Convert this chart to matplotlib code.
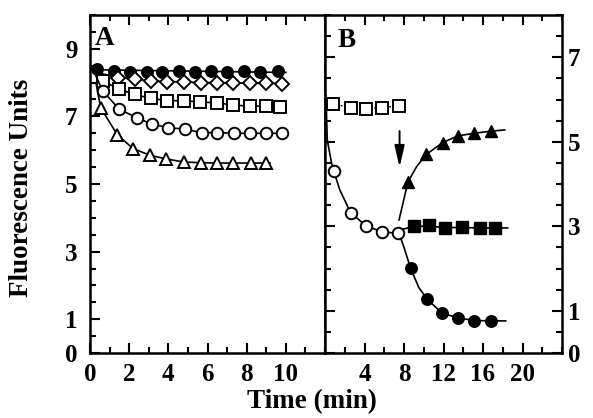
import matplotlib
matplotlib.use("Agg")
import matplotlib.pyplot as plt
from matplotlib.ticker import MultipleLocator, FixedLocator

plt.rcParams['font.family'] = ['Liberation Serif', 'DejaVu Serif']
plt.rcParams['font.weight'] = 'bold'

# ---------------- Panel A data (left axis) ----------------
a_fc_t = [0.35, 1.2, 2.05, 2.9, 3.7, 4.55, 5.35, 6.2, 7.0, 7.85, 8.7, 9.6]
a_fc_v = [8.4, 8.35, 8.32, 8.3, 8.3, 8.35, 8.3, 8.35, 8.3, 8.35, 8.3, 8.33]
a_fc_line_t = [0.2, 10.0]
a_fc_line_v = [8.38, 8.3]

a_di_t = [1.45, 2.3, 3.1, 3.95, 4.8, 5.65, 6.46, 7.3, 8.16, 9.0, 9.8]
a_di_v = [8.15, 8.1, 8.05, 8.03, 8.02, 8.0, 8.0, 7.99, 7.98, 7.98, 7.97]
a_di_line_t = [0.25, 0.7, 1.45, 2.3, 3.1, 3.95, 4.8, 5.65, 6.46, 7.3, 8.16, 9.0, 9.8]
a_di_line_v = [8.35, 8.25, 8.15, 8.1, 8.05, 8.03, 8.02, 8.0, 8.0, 7.99, 7.98, 7.98, 7.97]

a_sq_t = [0.65, 1.5, 2.3, 3.1, 3.95, 4.8, 5.6, 6.46, 7.3, 8.16, 9.0, 9.7]
a_sq_v = [8.05, 7.8, 7.65, 7.53, 7.47, 7.46, 7.43, 7.4, 7.34, 7.3, 7.31, 7.28]
a_sq_line_t = [0.3, 0.65, 1.5, 2.3, 3.1, 3.95, 4.8, 5.6, 6.46, 7.3, 8.16, 9.0, 10.0]
a_sq_line_v = [8.3, 8.05, 7.8, 7.65, 7.53, 7.47, 7.46, 7.43, 7.4, 7.34, 7.3, 7.31, 7.28]

a_oc_t = [0.65, 1.5, 2.4, 3.15, 4.0, 4.85, 5.7, 6.5, 7.35, 8.16, 9.0, 9.8]
a_oc_v = [7.75, 7.21, 6.96, 6.77, 6.67, 6.62, 6.52, 6.52, 6.5, 6.5, 6.5, 6.5]
a_oc_line_t = [0.3, 0.65, 1.5, 2.4, 3.15, 4.0, 4.85, 5.7, 6.5, 7.35, 8.16, 9.0, 9.8]
a_oc_line_v = [8.2, 7.75, 7.21, 6.96, 6.77, 6.67, 6.62, 6.52, 6.52, 6.5, 6.5, 6.5, 6.5]

a_tr_t = [0.55, 1.4, 2.2, 3.06, 3.9, 4.8, 5.65, 6.46, 7.3, 8.2, 9.0]
a_tr_v = [7.25, 6.45, 6.05, 5.85, 5.74, 5.65, 5.63, 5.62, 5.62, 5.62, 5.62]
a_tr_line_t = [0.3, 0.55, 1.4, 2.2, 3.06, 3.9, 4.8, 5.65, 6.46, 7.3, 8.2, 9.2]
a_tr_line_v = [8.0, 7.25, 6.45, 6.05, 5.85, 5.74, 5.65, 5.63, 5.62, 5.62, 5.62, 5.62]

# ---------------- Panel B data (right axis) ----------------
b_sq_t = [0.84, 2.6, 4.2, 5.8, 7.5]
b_sq_v = [5.89, 5.81, 5.78, 5.81, 5.85]
b_sq_line_t = [0.84, 2.6, 4.2, 5.8, 7.5, 8.3]
b_sq_line_v = [5.89, 5.81, 5.78, 5.81, 5.85, 5.85]

b_oc_t = [0.9, 2.6, 4.2, 5.8, 7.4]
b_oc_v = [4.3, 3.32, 3.0, 2.87, 2.83]
b_oc_line_t = [0.1, 0.23, 0.67, 0.9, 1.5, 2.6, 4.2, 5.8, 7.4]
b_oc_line_v = [6.1, 5.04, 4.49, 4.3, 3.86, 3.32, 3.0, 2.87, 2.83]

b_fs_t = [9.04, 10.55, 12.14, 13.85, 15.67, 17.2]
b_fs_v = [3.0, 3.02, 2.95, 2.98, 2.95, 2.97]
b_fs_line_t = [7.4, 9.04, 10.55, 12.14, 13.85, 15.67, 18.5]
b_fs_line_v = [2.9, 3.0, 3.0, 2.97, 2.97, 2.96, 2.96]

b_fc_t = [8.66, 10.36, 11.87, 13.5, 15.1, 16.8]
b_fc_v = [2.01, 1.27, 0.94, 0.83, 0.75, 0.76]
b_fc_line_t = [7.5, 8.0, 8.66, 9.5, 10.36, 11.87, 13.5, 15.1, 16.8, 18.3]
b_fc_line_v = [2.83, 2.5, 2.01, 1.55, 1.27, 0.94, 0.83, 0.77, 0.76, 0.76]

b_ft_t = [8.4, 10.27, 11.9, 13.47, 15.1, 16.77]
b_ft_v = [4.05, 4.7, 4.98, 5.14, 5.2, 5.25]
b_ft_line_t = [7.5, 8.4, 9.3, 10.27, 11.9, 13.47, 15.1, 16.77, 18.2]
b_ft_line_v = [3.15, 4.05, 4.42, 4.7, 4.98, 5.14, 5.2, 5.25, 5.28]

arrow_t = 7.55
arrow_from = 5.32
arrow_to = 4.33

a_xticklabels = ['0', '2', '4', '6', '8', '10']
b_xticklabels = ['4', '8', '12', '16', '20']
a_yticklabels = ['0', '1', '3', '5', '7', '9']
b_yticklabels = ['0', '1', '3', '5', '7']

# ---------------- Figure ----------------
W, H = 593, 418
fig = plt.figure(figsize=(W / 100, H / 100), dpi=100)
L, M, R = 90 / W, 325 / W, 562 / W
B0, T0 = 1 - 353 / H, 1 - 15 / H
axA = fig.add_axes([L, B0, M - L, T0 - B0])
axB = fig.add_axes([M, B0, R - M, T0 - B0])

FS = 18
FSL = 19.5
lw_line = 1.2
ms = 8.3
mew = 1.4

def style(ax):
    for s in ax.spines.values():
        s.set_linewidth(1.8)
    ax.tick_params(which='both', direction='in', width=1.5, top=True, bottom=True,
                   left=True, right=True, labelsize=FS)
    ax.tick_params(which='major', length=7)
    ax.tick_params(which='minor', length=4.5)
    for lab in ax.get_xticklabels() + ax.get_yticklabels():
        lab.set_fontweight('bold')

# Panel A
axA.plot(a_fc_line_t, a_fc_line_v, color='black', lw=lw_line)
axA.plot(a_fc_t, a_fc_v, 'o', color='black', ms=ms, mfc='black')
axA.plot(a_di_line_t, a_di_line_v, color='black', lw=lw_line)
axA.plot(a_di_t, a_di_v, 'D', color='black', ms=6.8, mfc='white', mew=mew)
axA.plot(a_sq_line_t, a_sq_line_v, color='black', lw=lw_line)
axA.plot(a_sq_t, a_sq_v, 's', color='black', ms=ms, mfc='white', mew=mew)
axA.plot(a_oc_line_t, a_oc_line_v, color='black', lw=lw_line)
axA.plot(a_oc_t, a_oc_v, 'o', color='black', ms=ms, mfc='white', mew=mew)
axA.plot(a_tr_line_t, a_tr_line_v, color='black', lw=lw_line)
axA.plot(a_tr_t, a_tr_v, '^', color='black', ms=ms, mfc='white', mew=mew)

axA.set_xlim(0, 12)
axA.set_ylim(0, 10)
axA.xaxis.set_major_locator(FixedLocator([0, 2, 4, 6, 8, 10]))
axA.xaxis.set_minor_locator(MultipleLocator(1))
axA.set_xticklabels(a_xticklabels)
axA.yaxis.set_major_locator(FixedLocator([0, 1, 3, 5, 7, 9]))
axA.yaxis.set_minor_locator(MultipleLocator(0.5))
axA.set_yticklabels(a_yticklabels)
style(axA)
axA.tick_params(axis='y', which='both', right=False, pad=9)
axA.tick_params(axis='x', pad=7)
axA.text(0.25, 9.3, 'A', fontsize=FSL, fontweight='bold', va='center', ha='left')

# Panel B
axB.plot(b_sq_line_t, b_sq_line_v, color='black', lw=0.9, ls=(0, (1.5, 1.5)))
axB.plot(b_sq_t, b_sq_v, 's', color='black', ms=ms, mfc='white', mew=mew)
axB.plot(b_oc_line_t, b_oc_line_v, color='black', lw=lw_line)
axB.plot(b_fs_line_t, b_fs_line_v, color='black', lw=lw_line)
axB.plot(b_fc_line_t, b_fc_line_v, color='black', lw=lw_line)
axB.plot(b_ft_line_t, b_ft_line_v, color='black', lw=lw_line)
axB.plot(b_oc_t, b_oc_v, 'o', color='black', ms=ms, mfc='white', mew=mew)
axB.plot(b_fs_t, b_fs_v, 's', color='black', ms=ms, mfc='black')
axB.plot(b_fc_t, b_fc_v, 'o', color='black', ms=ms, mfc='black')
axB.plot(b_ft_t, b_ft_v, '^', color='black', ms=ms, mfc='black')
axB.annotate('', xy=(arrow_t, arrow_to), xytext=(arrow_t, arrow_from),
             arrowprops=dict(arrowstyle='-|>,head_length=1.3,head_width=0.3',
                             color='black', lw=1.4))

axB.set_xlim(0, 24)
axB.set_ylim(0, 8)
axB.xaxis.set_major_locator(FixedLocator([4, 8, 12, 16, 20]))
axB.xaxis.set_minor_locator(MultipleLocator(2))
axB.set_xticklabels(b_xticklabels)
axB.yaxis.set_major_locator(FixedLocator([0, 1, 3, 5, 7]))
axB.yaxis.set_minor_locator(MultipleLocator(0.5))
axB.set_yticklabels(b_yticklabels)
style(axB)
axB.tick_params(axis='y', which='both', labelleft=False, labelright=True, pad=4)
axB.tick_params(axis='x', pad=7)
axB.text(1.3, 7.4, 'B', fontsize=FSL, fontweight='bold', va='center', ha='left')

fig.text(22 / W, 1 - 188 / H, 'Fluorescence Units', rotation=90, fontsize=FSL,
         fontweight='bold', ha='center', va='center')
fig.text(312 / W, 1 - 402 / H, 'Time (min)', fontsize=FSL, fontweight='bold',
         ha='center', va='center')

fig.savefig('out.png', dpi=100)
